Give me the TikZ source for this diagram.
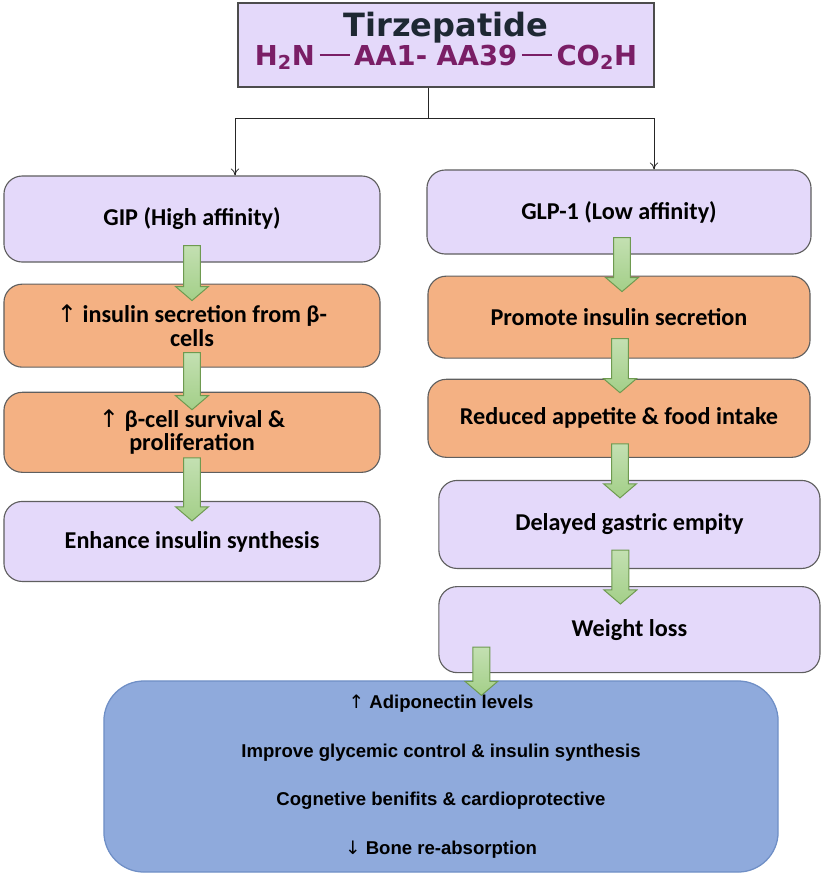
\documentclass[tikz,border=0pt]{standalone}
\usepackage{fontspec}
\setmainfont{Carlito}
\newfontfamily\arialf{Liberation Sans}
\newfontfamily\titlef{DejaVu Sans}
\newfontfamily\symf{DejaVu Sans}
\usetikzlibrary{arrows.meta, positioning, calc}
\usepackage{xcolor}

\definecolor{lavender}{HTML}{E4D9FA}
\definecolor{peach}{HTML}{F4B183}
\definecolor{steel}{HTML}{8FAADC}
\definecolor{steelline}{HTML}{6F8FC6}
\definecolor{boxline}{HTML}{5F5F5F}
\definecolor{leaf}{HTML}{A3CF88}
\definecolor{leafline}{HTML}{6E9A50}
\definecolor{plum}{HTML}{7A1E66}
\definecolor{ink}{HTML}{1E2833}

\newcommand{\arrup}{{\symf\mdseries\char"2191}}
\newcommand{\arrdown}{{\symf\mdseries\char"2193}}
\newcommand{\bond}{\,\rule[0.32em]{1.1em}{0.07em}\,}

\begin{document}
\begin{tikzpicture}[
    x=0.025cm, y=-0.025cm,
    flowbox/.style={draw=boxline, line width=0.8pt, rounded corners=13pt,
                    align=center, inner sep=2pt, text=black,
                    font=\bfseries\fontsize{17.2}{16.5}\selectfont},
    lavbox/.style={flowbox, fill=lavender},
    peachbox/.style={flowbox, fill=peach},
    topbox/.style={draw=boxline!80!black, line width=0.9pt, fill=lavender, align=center,
                   font=\titlef\bfseries\fontsize{20}{18.5}\selectfont},
    resultbox/.style={draw=steelline, line width=0.9pt, fill=steel, rounded corners=1cm,
                      align=center, font=\arialf\bfseries\fontsize{13.2}{34.5}\selectfont},
    thinarrow/.style={-{To[length=5pt,width=6pt]}, line width=0.6pt, draw=black!85},
    fatarrow/.style={draw=leafline, line width=0.7pt, top color=leaf!65!white, bottom color=leaf,
        to path={let \p1=(\tikztostart), \p2=(\tikztotarget) in
            (\x1-6pt,\y1) -- (\x1+6pt,\y1) -- (\x1+6pt,\y2+10pt) -- (\x1+11.7pt,\y2+10pt)
            -- (\x1,\y2) -- (\x1-11.7pt,\y2+10pt) -- (\x1-6pt,\y2+10pt) -- cycle}},
]
\useasboundingbox (0,0) rectangle (826,875);

% drug
\node[topbox, minimum width=10.4cm, minimum height=2.1cm] (drug) at (446,45)
  {{\fontsize{22.8}{20}\selectfont\color{ink}Tirzepatide}\\
   {\fontsize{19.5}{20}\selectfont\color{plum}H\textsubscript{2}N\bond AA1- AA39\bond CO\textsubscript{2}H}\rule[-9pt]{0pt}{9pt}};

% GIP branch
\node[lavbox, minimum width=9.4cm, minimum height=2.15cm] (gip) at (192,219) {GIP (High affinity)};
\node[peachbox, minimum width=9.4cm, minimum height=2.075cm, below=0.525cm of gip] (secr)
  {\arrup\ insulin secretion from β-\\cells};
\node[peachbox, minimum width=9.4cm, minimum height=2cm, below=0.6cm of secr] (surv)
  {\arrup\ β-cell survival \&\\proliferation};
\node[lavbox, minimum width=9.4cm, minimum height=2cm, below=0.7cm of surv] (synth)
  {Enhance insulin synthesis};

% GLP-1 branch
\node[lavbox, minimum width=9.6cm, minimum height=2.1cm] (glp) at (619,212) {GLP-1 (Low affinity)};
\node[peachbox, minimum width=9.55cm, minimum height=2.05cm, below=0.525cm of glp] (prom)
  {Promote insulin secretion};
\node[peachbox, minimum width=9.55cm, minimum height=1.95cm, below=0.5cm of prom] (appet)
  {Reduced appetite \& food intake};
\node[lavbox, minimum width=9.525cm, minimum height=2.2cm, below=0.55cm of appet, xshift=0.26cm] (gastric)
  {Delayed gastric empity};
\node[lavbox, minimum width=9.525cm, minimum height=2.15cm, below=0.425cm of gastric] (weight)
  {Weight loss};

% outcomes
\node[resultbox, minimum width=16.85cm, minimum height=4.775cm] (outcome) at (441,776.5)
  {\arrup\ Adiponectin levels\\
   Improve glycemic control \& insulin synthesis\\
   Cognetive benifits \& cardioprotective\\
   \arrdown\ Bone re-absorption};

% split
\coordinate (fork) at (428,118);
\draw[line width=0.6pt, draw=black!85] (drug.south -| fork) -- (fork);
\draw[thinarrow] (fork) -| ($(gip.north)+(43,0)$);
\draw[thinarrow] (fork) -| ($(glp.north)+(35,0)$);

% block arrows
\draw[fatarrow] ($(gip.south)+(0,-17)$) to ($(secr.north)+(0,17)$);
\draw[fatarrow] ($(secr.south)+(0,-15)$) to ($(surv.north)+(0,18)$);
\draw[fatarrow] ($(surv.south)+(0,-15)$) to ($(synth.north)+(0,20)$);
\draw[fatarrow] ($(glp.south)+(3,-17)$) to ($(prom.north)+(0,16)$);
\draw[fatarrow] ($(prom.south)+(1,-20)$) to ($(appet.north)+(0,14)$);
\draw[fatarrow] ($(appet.south)+(1,-14)$) to ($(gastric.north)+(0,18)$);
\draw[fatarrow] ($(gastric.south)+(-9,-19)$) to ($(weight.north)+(0,18)$);
\draw[fatarrow] ($(weight.south)+(-148,-26)$) to ($(outcome.north)+(42,15)$);
\end{tikzpicture}
\end{document}
